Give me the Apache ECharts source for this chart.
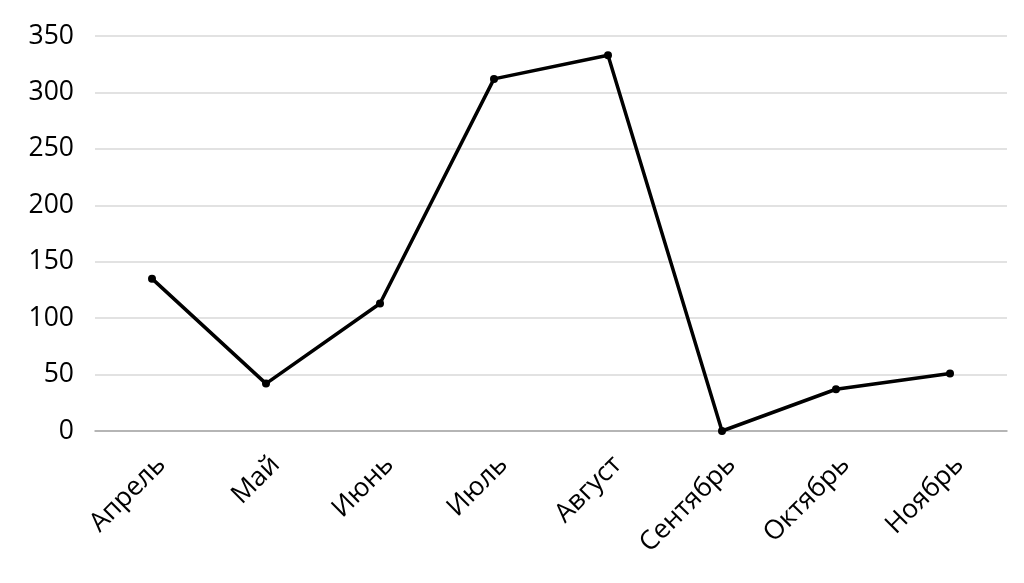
<!DOCTYPE html>
<html><head><meta charset="utf-8">
<script src="https://cdn.jsdelivr.net/npm/echarts@6/dist/echarts.min.js"></script>
<style>html,body{margin:0;padding:0;background:#fff}#c{width:1024px;height:583px}</style>
</head><body><div id="c"></div>
<script>
const categories = ['Апрель','Май','Июнь','Июль','Август','Сентябрь','Октябрь','Ноябрь'];
const values = [135, 42, 113, 312, 333, 0, 37, 51];
const chart = echarts.init(document.getElementById('c'), null, {renderer:'canvas'});
chart.setOption({
  animation:false,
  backgroundColor:'#fff',
  textStyle:{fontFamily:'Open Sans'},
  grid:{left:95,right:17,top:36,bottom:152,containLabel:false},
  xAxis:{type:'category',data:categories,boundaryGap:true,
    axisLine:{lineStyle:{color:'#a6a6a6',width:1.5}},
    axisTick:{show:false},
    axisLabel:{rotate:45,color:'#000',fontSize:26.5,fontFamily:'Open Sans',margin:20,verticalAlign:'top'}},
  yAxis:{type:'value',min:0,max:350,interval:50,
    axisLine:{show:false},axisTick:{show:false},
    splitLine:{lineStyle:{color:'#d9d9d9',width:1.5}},
    axisLabel:{color:'#000',fontSize:26.5,fontFamily:'Open Sans',margin:21}},
  series:[{type:'line',data:values,symbol:'circle',symbolSize:8,
    lineStyle:{color:'#000',width:3.5},itemStyle:{color:'#000'}}]
});
</script></body></html>
